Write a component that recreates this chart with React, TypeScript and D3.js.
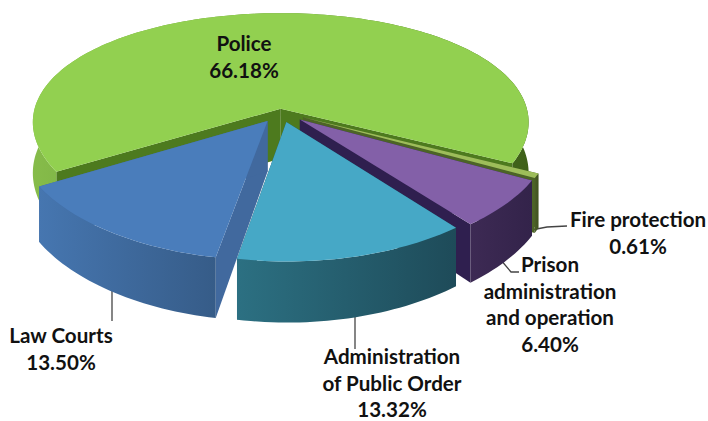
import React from "react";
import * as d3 from "d3";

// Spending shares, clockwise from the right-hand side of the disc
const sectors = ["Fire protection", "Prison administration and operation", "Administration of Public Order", "Law Courts", "Police"];
const shares = [0.61, 6.4, 13.32, 13.5, 66.18];
const explode = [0.1, 0.1, 0.09, 0.095, 0.03];
const topColors = ["#9DBD5A", "#8360A8", "#46A8C6", "#4A7DBB", "#92D050"];
const cutColors = ["#4C6426", "#2F1F4F", "#1F4F5E", "#41699E", "#4D7A1E"];
const wallStops = [
  ["#4A5E28", "#40521F"],
  ["#3D2A54", "#33234A"],
  ["#2C7082", "#1E4B59"],
  ["#4676B0", "#365C88"],
  ["#86BC4A", "#3E6018"],
];
// Which slices get painted when: back to front
const paintOrder = [4, 0, 1, 3, 2];

type Label = { lines: string[]; x: number; y: number };
const labels: Label[] = [
  { lines: ["Police", "66.18%"], x: 244, y: 51 },
  { lines: ["Law Courts", "13.50%"], x: 61, y: 343 },
  { lines: ["Administration", "of Public Order", "13.32%"], x: 392, y: 364 },
  { lines: ["Prison", "administration", "and operation", "6.40%"], x: 550, y: 272 },
  { lines: ["Fire protection", "0.61%"], x: 638, y: 227 },
];
const leaders: [number, number][][] = [
  [[112, 290], [112, 321]],
  [[355, 315], [355, 349]],
  [[500, 259], [511, 272], [519, 272]],
  [[526, 231], [547, 227], [567, 226]],
];

// Oblique view of the disc with a mild perspective towards the viewer
const CX = 281, CY = 112, RX = 247, RY = 112.5, PERSP_Y = 0.167, PERSP_X = 0.12, DEPTH = 50;
const project = (u: number, v: number, down = 0): [number, number] => {
  const sy = 1 / (1 - PERSP_Y * v);
  const sx = 1 / (1 - PERSP_X * v);
  return [CX + RX * u * sx, CY + RY * v * sy + DEPTH * down * sy];
};

const toPath = d3.line<[number, number]>().curve(d3.curveLinear);

const arcs = d3
  .pie<number>()
  .sort(null)
  .startAngle((117 * Math.PI) / 180)
  .endAngle((477 * Math.PI) / 180)(shares);

const slices = arcs.map((a, i) => {
  const mid = (a.startAngle + a.endAngle) / 2;
  const ox = Math.sin(mid) * explode[i];
  const oy = -Math.cos(mid) * explode[i];
  const n = Math.max(4, Math.ceil((a.endAngle - a.startAngle) * 40));
  const rim = d3.range(n + 1).map((k) => {
    const t = a.startAngle + ((a.endAngle - a.startAngle) * k) / n;
    return [ox + Math.sin(t), oy - Math.cos(t)] as [number, number];
  });
  const first = rim[0];
  const last = rim[rim.length - 1];
  const at = (p: [number, number], d = 0) => project(p[0], p[1], d);
  const apex: [number, number] = [ox, oy];
  return {
    top: toPath([at(apex), ...rim.map((p) => at(p))])! + "Z",
    wall: toPath([...rim.map((p) => at(p)), ...rim.slice().reverse().map((p) => at(p, 1))])! + "Z",
    cutA: toPath([at(apex), at(first), at(first, 1), at(apex, 1)])! + "Z",
    cutB: toPath([at(apex), at(last), at(last, 1), at(apex, 1)])! + "Z",
  };
});

export default function App() {
  return (
    <svg
      width={708}
      height={421}
      viewBox="0 0 708 421"
      style={{ position: "absolute", left: 0, top: 0, background: "#fff" }}
    >
      <defs>
        {wallStops.map((stops, i) => (
          <linearGradient key={i} id={`wall-${i}`} x1="0" x2="1" y1="0" y2="0">
            <stop offset="0" stopColor={stops[0]} />
            <stop offset="1" stopColor={stops[1]} />
          </linearGradient>
        ))}
      </defs>
      {leaders.map((pts, i) => (
        <path key={i} d={toPath(pts)!} fill="none" stroke="#444" strokeWidth={1.3} />
      ))}
      {paintOrder.map((i) => (
        <g key={sectors[i]}>
          <path d={slices[i].cutA} fill={cutColors[i]} />
          <path d={slices[i].cutB} fill={cutColors[i]} />
          <path d={slices[i].wall} fill={`url(#wall-${i})`} />
          <path d={slices[i].top} fill={topColors[i]} />
        </g>
      ))}
      {labels.map((l) => (
        <text
          key={l.lines[0]}
          x={l.x}
          y={l.y}
          textAnchor="middle"
          fontFamily="Lato, 'Open Sans', sans-serif"
          fontWeight={700}
          fontSize={20.6}
          fill="#111"
        >
          {l.lines.map((t, k) => (
            <tspan key={t} x={l.x} dy={k === 0 ? 0 : 26.5}>
              {t}
            </tspan>
          ))}
        </text>
      ))}
    </svg>
  );
}
